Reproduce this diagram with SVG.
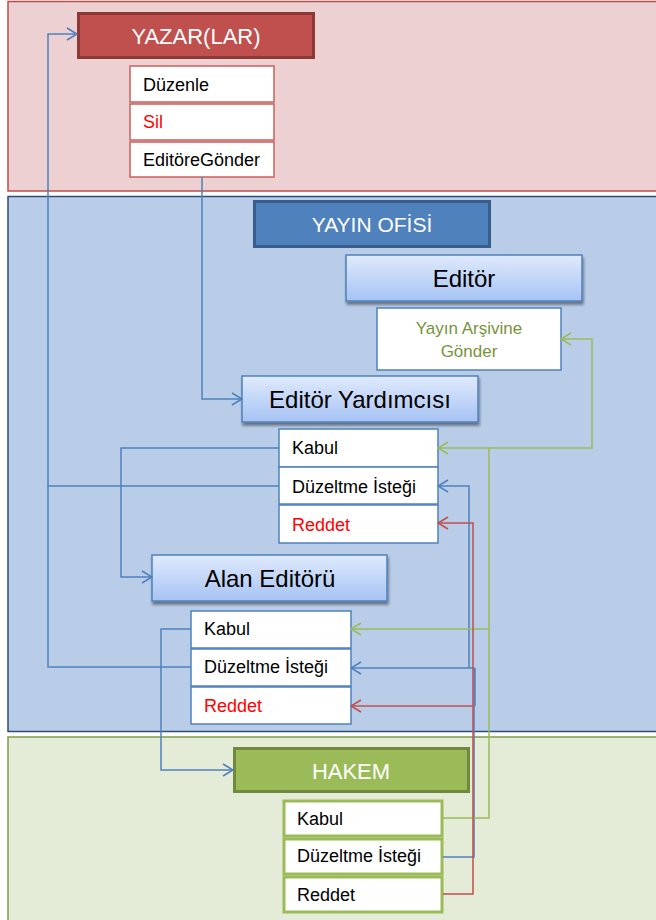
<svg xmlns="http://www.w3.org/2000/svg" width="656" height="920" viewBox="0 0 656 920">
<defs>
<linearGradient id="gb" x1="0" y1="0" x2="0" y2="1">
<stop offset="0" stop-color="#E0EAFC"/>
<stop offset="1" stop-color="#A6C3F4"/>
</linearGradient>
<filter id="sh" x="-10%" y="-20%" width="120%" height="150%">
<feGaussianBlur in="SourceAlpha" stdDeviation="1.5"/>
<feOffset dx="1" dy="2.5" result="o"/>
<feComponentTransfer><feFuncA type="linear" slope="0.45"/></feComponentTransfer>
<feMerge><feMergeNode/><feMergeNode in="SourceGraphic"/></feMerge>
</filter>
<marker id="ab" viewBox="0 0 12 14" refX="11" refY="7" markerWidth="12" markerHeight="14" markerUnits="userSpaceOnUse" orient="auto"><path d="M1,1 L11,7 L1,13" fill="none" stroke="#4F81BD" stroke-width="1.6"/></marker>
<marker id="ar" viewBox="0 0 12 14" refX="11" refY="7" markerWidth="12" markerHeight="14" markerUnits="userSpaceOnUse" orient="auto"><path d="M1,1 L11,7 L1,13" fill="none" stroke="#C0504D" stroke-width="1.6"/></marker>
<marker id="ag" viewBox="0 0 12 14" refX="11" refY="7" markerWidth="12" markerHeight="14" markerUnits="userSpaceOnUse" orient="auto"><path d="M1,1 L11,7 L1,13" fill="none" stroke="#9BBB59" stroke-width="1.6"/></marker>
</defs>
<style>
text{font-family:"Liberation Sans",Arial,sans-serif;}
.hd{fill:#fff;font-size:22px;text-anchor:middle;}
.gb{fill:url(#gb);stroke:#4F81BD;stroke-width:1.5;filter:url(#sh);}
.gt{fill:#000;font-size:24px;text-anchor:middle;}
.it{fill:#000;font-size:18px;}
.red{fill:#FF0000;}
.ri{fill:#fff;stroke:#C9605D;stroke-width:1.5;}
.bi{fill:#fff;stroke:#4F81BD;stroke-width:1.5;}
.hi{fill:#fff;stroke:#9BBB59;stroke-width:3;}
.cb{fill:none;stroke:#4F81BD;stroke-width:1.5;}
.cr{fill:none;stroke:#C0504D;stroke-width:1.5;}
.cg{fill:none;stroke:#9BBB59;stroke-width:1.5;}
</style>

<g id="bands">
<rect x="8" y="1.5" width="660" height="189.5" fill="#EDD0D2" stroke="#BE4B48" stroke-width="1.5"/>
<rect x="8" y="196.5" width="660" height="535" fill="#B9CDE9" stroke="#2C4D78" stroke-width="1.5"/>
<rect x="8" y="737" width="660" height="200" fill="#E4EBD6" stroke="#7F9A48" stroke-width="1.5"/>
</g>

<g id="yazar">
<rect x="78.5" y="13.5" width="235" height="44" fill="#C0504D" stroke="#8C3836" stroke-width="3"/>
<text class="hd" x="196" y="44">YAZAR(LAR)</text>
</g>
<g id="yazar-items">
<rect class="ri" x="130" y="66" width="144" height="36"/>
<text class="it" x="143" y="91">Düzenle</text>
<rect class="ri" x="130" y="104" width="144" height="36"/>
<text class="it red" x="143" y="128">Sil</text>
<rect class="ri" x="130" y="142" width="144" height="35"/>
<text class="it" x="143" y="166">EditöreGönder</text>
</g>

<g id="yayin-ofisi">
<rect x="254.5" y="201.5" width="235" height="45" fill="#4F81BD" stroke="#385D8A" stroke-width="3"/>
<text class="hd" x="372" y="232" style="font-size:21px">YAYIN OFİSİ</text>
</g>

<g id="editor">
<rect class="gb" x="346" y="255" width="236" height="46"/>
<text class="gt" x="464" y="287">Editör</text>
</g>
<g id="arsiv">
<rect class="bi" x="377" y="308" width="184" height="62"/>
<text x="469" y="334" style="font-size:17px;fill:#77933C;text-anchor:middle">Yayın Arşivine</text>
<text x="469" y="357" style="font-size:17px;fill:#77933C;text-anchor:middle">Gönder</text>
</g>

<g id="editor-yardimcisi">
<rect class="gb" x="242" y="376" width="236" height="46"/>
<text class="gt" x="360" y="408">Editör Yardımcısı</text>
</g>
<g id="ey-items">
<rect class="bi" x="279" y="429" width="159" height="38"/>
<text class="it" x="292" y="454">Kabul</text>
<rect class="bi" x="279" y="467" width="159" height="37"/>
<text class="it" x="292" y="493">Düzeltme İsteği</text>
<rect class="bi" x="279" y="505" width="159" height="38"/>
<text class="it red" x="292" y="531">Reddet</text>
</g>

<g id="alan-editoru">
<rect class="gb" x="152" y="555" width="235" height="46"/>
<text class="gt" x="270" y="587">Alan Editörü</text>
</g>
<g id="ae-items">
<rect class="bi" x="191" y="611" width="160" height="37"/>
<text class="it" x="204" y="635">Kabul</text>
<rect class="bi" x="191" y="649" width="160" height="37"/>
<text class="it" x="204" y="673">Düzeltme İsteği</text>
<rect class="bi" x="191" y="687" width="160" height="37"/>
<text class="it red" x="204" y="712">Reddet</text>
</g>

<g id="hakem">
<rect x="234.5" y="748.5" width="234" height="43" fill="#9BBB59" stroke="#71893F" stroke-width="3"/>
<text class="hd" x="351" y="779">HAKEM</text>
</g>
<g id="hakem-items">
<rect class="hi" x="284" y="801" width="158" height="35"/>
<text class="it" x="297" y="825">Kabul</text>
<rect class="hi" x="284" y="839" width="158" height="35"/>
<text class="it" x="297" y="862">Düzeltme İsteği</text>
<rect class="hi" x="284" y="877" width="158" height="35"/>
<text class="it" x="297" y="901">Reddet</text>
</g>

<g id="connectors">
<path class="cb" d="M202,177 V399 H242" marker-end="url(#ab)"/>
<path class="cb" d="M279,486 H48 V34 H77" marker-end="url(#ab)"/>
<path class="cb" d="M191,667 H48 V486"/>
<path class="cb" d="M279,448 H121 V577 H152" marker-end="url(#ab)"/>
<path class="cb" d="M191,629 H161 V770 H233" marker-end="url(#ab)"/>
<path class="cb" d="M443,857 H474 V668 H351" marker-end="url(#ab)"/>
<path class="cb" d="M475,668 V706"/>
<path class="cb" d="M469,668 V486 H438" marker-end="url(#ab)"/>
<path class="cg" d="M443,818 H489 V448 H438" marker-end="url(#ag)"/>
<path class="cg" d="M489,448 H592 V339 H561" marker-end="url(#ag)"/>
<path class="cg" d="M489,629 H351" marker-end="url(#ag)"/>
<path class="cr" d="M443,894 H473 V523 H438" marker-end="url(#ar)"/>
<path class="cr" d="M473,706 H351" marker-end="url(#ar)"/>
</g>
</svg>
